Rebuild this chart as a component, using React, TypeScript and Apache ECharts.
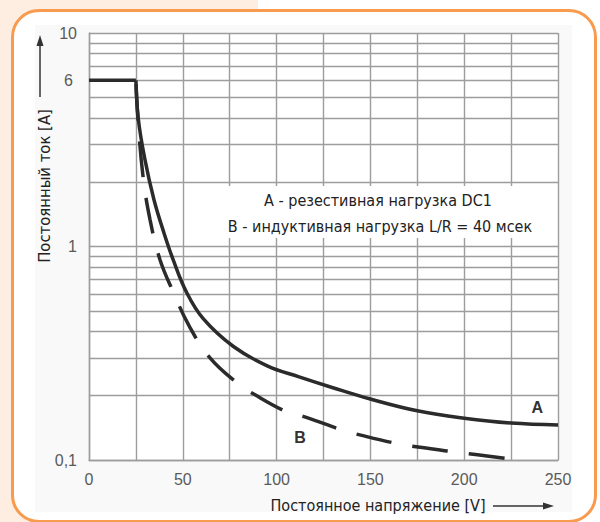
import React, { useEffect, useRef } from "react";
import * as echarts from "echarts";

// Flat current limit segment shared by both curves
const flatVoltage = [0, 25];
const flatCurrent = [6, 6];

// Curve A: resistive load DC1 (solid)
const voltageA = [25, 26.3, 29.8, 34.6, 39.4, 44.8, 52, 61, 77, 95, 112, 130, 150, 175, 200, 225, 250];
const currentA = [6, 3.95, 2.56, 1.66, 1.2, 0.87, 0.61, 0.458, 0.34, 0.276, 0.245, 0.218, 0.193, 0.17, 0.157, 0.149, 0.146];

// Curve B: inductive load L/R = 40 ms (dashed)
const voltageB = [25, 26.1, 28.8, 32.5, 37.8, 44.8, 53.3, 64.5, 78.9, 88.5, 105.5, 116.2, 135, 146, 165, 175.4, 195, 206, 225];
const currentB = [6, 3.95, 2.13, 1.34, 0.87, 0.615, 0.426, 0.301, 0.23, 0.202, 0.168, 0.158, 0.138, 0.13, 0.119, 0.115, 0.109, 0.106, 0.101];

// Minor horizontal grid lines of the log axis
const minorGridValues = [0.2, 0.3, 0.4, 0.5, 0.6, 0.7, 0.8, 0.9, 2, 3, 4, 5, 6, 7, 8, 9];
const labelledMinor = 6;

const xMin = 0;
const xMax = 250;
const xStep = 25;
const xLabelStep = 50;
const yMin = 0.1;
const yMax = 10;

const curveLabelA = { text: "A", x: 239, y: 0.176 };
const curveLabelB = { text: "B", x: 112.5, y: 0.128 };

const legendLine1 = "A - резестивная нагрузка DC1";
const legendLine2 = "B - индуктивная нагрузка L/R = 40 мсек";
const yName = "Постоянный ток [A]";
const xName = "Постоянное напряжение [V]";

const GRID_COLOR = "#9d9d9d";
const CURVE_COLOR = "#2b2b2b";
const LABEL_COLOR = "#5a5a5a";
const NARROW = "'DejaVu Sans Condensed', 'Liberation Sans Narrow', sans-serif";
const ARIAL = "'Liberation Sans', Arial, sans-serif";

export default function App() {
  const ref = useRef<HTMLDivElement>(null);

  useEffect(() => {
    if (!ref.current) return;
    const chart = echarts.init(ref.current, undefined, { renderer: "svg" });

    const flat = flatVoltage.map((v, i) => [v, flatCurrent[i]]);
    const seriesA = voltageA.map((v, i) => [v, currentA[i]]);
    const seriesB = voltageB.map((v, i) => [v, currentB[i]]);

    const option: any = {
      animation: false,
      grid: {
        left: 89,
        top: 33,
        width: 469,
        height: 427,
        show: true,
        backgroundColor: "#ffffff",
        borderWidth: 0,
      },
      xAxis: {
        type: "value",
        min: xMin,
        max: xMax,
        interval: xStep,
        axisLine: { show: true, lineStyle: { color: GRID_COLOR, width: 1.4 } },
        axisTick: { show: false },
        axisLabel: {
          margin: 11,
          color: LABEL_COLOR,
          fontFamily: ARIAL,
          fontSize: 16,
          formatter: (v: number) => (v % xLabelStep === 0 ? String(v) : ""),
        },
        splitLine: { show: true, lineStyle: { color: GRID_COLOR, width: 1.4 } },
      },
      yAxis: {
        type: "log",
        logBase: 10,
        min: yMin,
        max: yMax,
        axisLine: { show: true, lineStyle: { color: GRID_COLOR, width: 1.4 } },
        axisTick: { show: false },
        axisLabel: {
          margin: 12,
          color: LABEL_COLOR,
          fontFamily: ARIAL,
          fontSize: 16,
          formatter: (v: number) => (Math.abs(v - 0.1) < 1e-9 ? "0,1" : String(Math.round(v))),
        },
        splitLine: { show: true, lineStyle: { color: GRID_COLOR, width: 1.4 } },
      },
      series: [
        {
          type: "line",
          data: [],
          silent: true,
          z: 1,
          markLine: {
            z: 1,
            silent: true,
            symbol: ["none", "none"],
            lineStyle: { color: GRID_COLOR, width: 1.4, type: "solid" },
            data: minorGridValues.map((v) => ({
              yAxis: v,
              label: {
                show: v === labelledMinor,
                position: "start",
                distance: 16,
                formatter: String(v),
                color: LABEL_COLOR,
                fontFamily: ARIAL,
                fontSize: 16,
              },
            })),
          },
        },
        {
          type: "line",
          name: "limit",
          data: flat,
          z: 3,
          showSymbol: false,
          lineStyle: { color: CURVE_COLOR, width: 3.5 },
        },
        {
          type: "line",
          name: "A",
          data: seriesA,
          z: 3,
          smooth: 0.4,
          showSymbol: false,
          lineStyle: { color: CURVE_COLOR, width: 3.5 },
          markPoint: {
            symbolSize: 0,
            label: { show: true, formatter: curveLabelA.text, color: "#333", fontFamily: ARIAL, fontWeight: "bold", fontSize: 16 },
            data: [{ coord: [curveLabelA.x, curveLabelA.y] }],
          },
        },
        {
          type: "line",
          name: "B",
          data: seriesB,
          z: 3,
          smooth: 0.4,
          showSymbol: false,
          lineStyle: { color: CURVE_COLOR, width: 3.5, type: [36, 21], dashOffset: -4 },
          markPoint: {
            symbolSize: 0,
            label: { show: true, formatter: curveLabelB.text, color: "#333", fontFamily: ARIAL, fontWeight: "bold", fontSize: 16 },
            data: [{ coord: [curveLabelB.x, curveLabelB.y] }],
          },
        },
      ],
      graphic: [
        {
          type: "rect",
          z: 20,
          shape: { x: 216, y: 186, width: 330, height: 52, r: 14 },
          style: { fill: "#ffffff" },
        },
        {
          type: "text",
          z: 21,
          x: 378,
          y: 200,
          style: { text: legendLine1, fontFamily: NARROW, fontSize: 16, fill: "#222", align: "center", verticalAlign: "middle" },
        },
        {
          type: "text",
          z: 21,
          x: 380,
          y: 226,
          style: { text: legendLine2, fontFamily: NARROW, fontSize: 16, fill: "#222", align: "center", verticalAlign: "middle" },
        },
        {
          type: "text",
          z: 21,
          x: 44,
          y: 186,
          rotation: Math.PI / 2,
          style: { text: yName, fontFamily: NARROW, fontSize: 16.5, fill: "#222", align: "center", verticalAlign: "middle" },
        },
        {
          type: "line",
          z: 21,
          shape: { x1: 40, y1: 97, x2: 40, y2: 44 },
          style: { stroke: "#333", lineWidth: 1.5 },
        },
        {
          type: "polygon",
          z: 21,
          shape: { points: [[40, 35], [36.5, 46], [43.5, 46]] },
          style: { fill: "#333" },
        },
        {
          type: "text",
          z: 21,
          x: 378,
          y: 505,
          style: { text: xName, fontFamily: NARROW, fontSize: 16, fill: "#222", align: "center", verticalAlign: "middle" },
        },
        {
          type: "line",
          z: 21,
          shape: { x1: 493, y1: 506, x2: 544, y2: 506 },
          style: { stroke: "#333", lineWidth: 1.5 },
        },
        {
          type: "polygon",
          z: 21,
          shape: { points: [[554, 506], [543, 502.5], [543, 509.5]] },
          style: { fill: "#333" },
        },
      ],
    };

    chart.setOption(option);
    return () => chart.dispose();
  }, []);

  return (
    <div
      style={{
        position: "fixed",
        left: 0,
        top: 0,
        width: 600,
        height: 522,
        overflow: "hidden",
        background: "linear-gradient(to right, #fdeee1 0px, #fdeee1 258px, #ffffff 258px)",
      }}
    >
      <div
        style={{
          position: "absolute",
          left: 11,
          top: 9,
          width: 580,
          height: 508,
          border: "3.5px solid #f89b4e",
          borderRadius: 28,
          background: "#ffffff",
        }}
      />
      <div style={{ position: "absolute", left: 35, top: 25, width: 537, height: 487, background: "#f9f9f9" }} />
      <div ref={ref} style={{ position: "absolute", left: 0, top: 0, width: 600, height: 522 }} />
    </div>
  );
}
